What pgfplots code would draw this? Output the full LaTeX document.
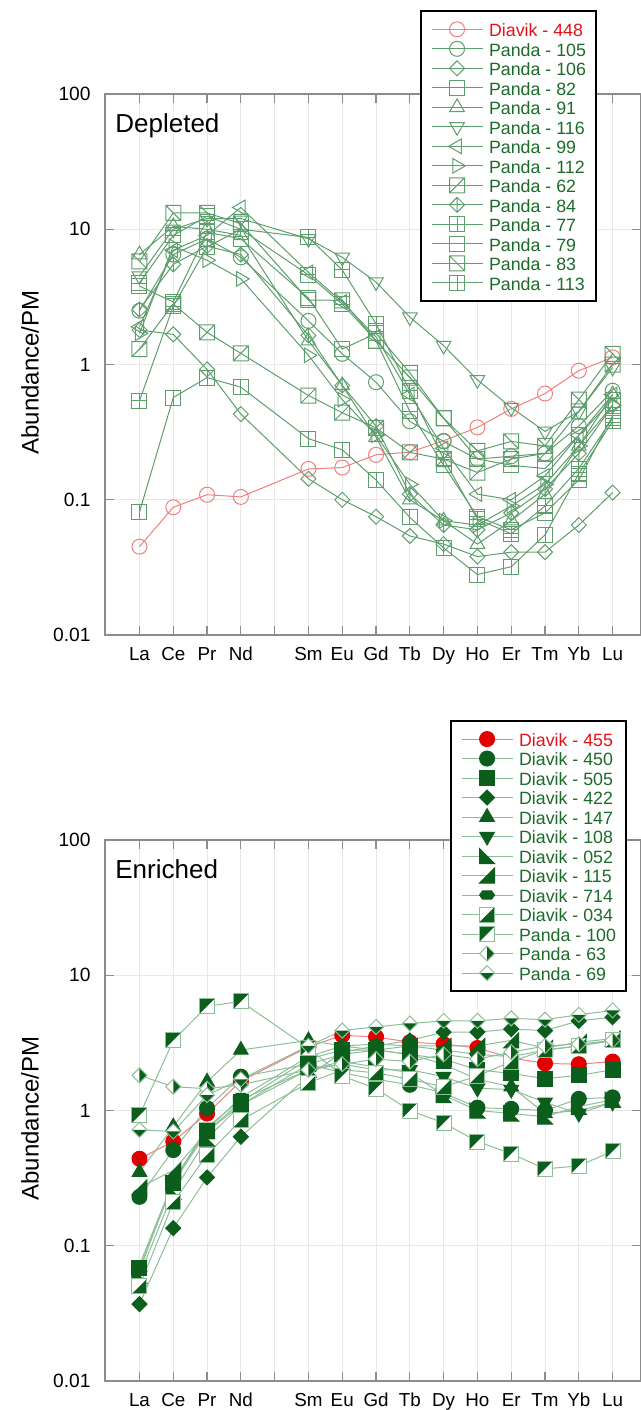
\documentclass[border=0pt]{standalone}
\usepackage{fontspec}
\setmainfont{Liberation Sans}
\usepackage{pgfplots}
\pgfplotsset{compat=1.18}
\usetikzlibrary{plotmarks}

\definecolor{gmk}{HTML}{5E9E6C}
\definecolor{rmk}{HTML}{F07F7F}
\definecolor{gtxt}{HTML}{1C6B2A}
\definecolor{rtxt}{HTML}{E3121B}
\definecolor{gdk}{HTML}{0B5E1C}
\definecolor{glt}{HTML}{8DBE98}
\definecolor{rfill}{HTML}{E00000}
\definecolor{gridc}{HTML}{E8E8E8}
\definecolor{axc}{HTML}{8C8C8C}

\newcommand\sqpath{\pgfpathrectangle{\pgfqpoint{-\pgfplotmarksize}{-\pgfplotmarksize}}{\pgfqpoint{2\pgfplotmarksize}{2\pgfplotmarksize}}}
\newcommand\diapath{\pgfpathmoveto{\pgfqpoint{0pt}{\pgfplotmarksize}}\pgfpathlineto{\pgfqpoint{\pgfplotmarksize}{0pt}}\pgfpathlineto{\pgfqpoint{0pt}{-\pgfplotmarksize}}\pgfpathlineto{\pgfqpoint{-\pgfplotmarksize}{0pt}}\pgfpathclose}
\newcommand\MV[2]{\pgfpathmoveto{\pgfqpoint{#1\pgfplotmarksize}{#2\pgfplotmarksize}}}
\newcommand\LN[2]{\pgfpathlineto{\pgfqpoint{#1\pgfplotmarksize}{#2\pgfplotmarksize}}}
\pgfdeclareplotmark{sqslash}{\sqpath\MV{-1}{-1}\LN{1}{1}\pgfusepathqstroke}
\pgfdeclareplotmark{sqbslash}{\sqpath\MV{-1}{1}\LN{1}{-1}\pgfusepathqstroke}
\pgfdeclareplotmark{sqv}{\sqpath\MV{0}{-1}\LN{0}{1}\pgfusepathqstroke}
\pgfdeclareplotmark{sqh}{\sqpath\MV{-1}{0}\LN{1}{0}\pgfusepathqstroke}
\pgfdeclareplotmark{sqplus}{\sqpath\MV{0}{-1}\LN{0}{1}\MV{-1}{0}\LN{1}{0}\pgfusepathqstroke}
\pgfdeclareplotmark{mydia}{\diapath\pgfusepathqstroke}
\pgfdeclareplotmark{diav}{\diapath\MV{0}{-1}\LN{0}{1}\pgfusepathqstroke}
\pgfdeclareplotmark{mydiaf}{\diapath\pgfusepathqfillstroke}
\pgfdeclareplotmark{triLL}{\MV{-1}{1}\LN{-1}{-1}\LN{1}{-1}\pgfpathclose\pgfusepathqfillstroke}
\pgfdeclareplotmark{triLR}{\MV{1}{1}\LN{1}{-1}\LN{-1}{-1}\pgfpathclose\pgfusepathqfillstroke}
\pgfdeclareplotmark{hexf}{\MV{-1}{0}\LN{-0.6}{0.55}\LN{0.6}{0.55}\LN{1}{0}\LN{0.6}{-0.55}\LN{-0.6}{-0.55}\pgfpathclose\pgfusepathqfillstroke}
\pgfdeclareplotmark{sqLR}{\begin{pgfscope}\pgfsetfillcolor{white}\sqpath\pgfusepathqfill
 \pgfsetfillcolor{gdk}\MV{1}{1}\LN{1}{-1}\LN{-1}{-1}\pgfpathclose\pgfusepathqfill
 \pgfsetstrokecolor{glt}\sqpath\pgfusepathqstroke\end{pgfscope}}
\pgfdeclareplotmark{sqUL}{\begin{pgfscope}\pgfsetfillcolor{white}\sqpath\pgfusepathqfill
 \pgfsetfillcolor{gdk}\MV{-1}{-1}\LN{-1}{1}\LN{1}{1}\pgfpathclose\pgfusepathqfill
 \pgfsetstrokecolor{glt}\sqpath\pgfusepathqstroke\end{pgfscope}}
\pgfdeclareplotmark{diaR}{\begin{pgfscope}\pgfsetfillcolor{white}\diapath\pgfusepathqfill
 \pgfsetfillcolor{gdk}\MV{0}{1}\LN{1}{0}\LN{0}{-1}\pgfpathclose\pgfusepathqfill
 \pgfsetstrokecolor{glt}\diapath\pgfusepathqstroke\end{pgfscope}}
\pgfdeclareplotmark{diaB}{\begin{pgfscope}\pgfsetfillcolor{white}\diapath\pgfusepathqfill
 \pgfsetfillcolor{gdk}\MV{-1}{0}\LN{1}{0}\LN{0}{-1}\pgfpathclose\pgfusepathqfill
 \pgfsetstrokecolor{glt}\diapath\pgfusepathqstroke\end{pgfscope}}

\pgfplotsset{every axis/.append style={
    scale only axis, width=268pt, height=270.5pt,
    xmin=-1.02, xmax=14.84,
    xtick={0,...,14}, xticklabels={La,Ce,Pr,Nd,,Sm,Eu,Gd,Tb,Dy,Ho,Er,Tm,Yb,Lu},
    ytick={0.01,0.1,1,10,100}, 
    grid=major, major grid style={gridc, line width=0.5pt},
    axis line style={axc, line width=0.6pt},
    tick style={axc, line width=0.6pt}, tick align=inside, major tick length=4.5pt,
    xticklabel style={font=\fontsize{9.4}{10}\selectfont, inner sep=0pt, text height=6.8pt, yshift=-5.6pt},
    yticklabel style={font=\fontsize{9.6}{10}\selectfont, inner sep=0pt, xshift=-7pt},
    ylabel style={at={(axis description cs:-0.14,0.485)}, rotate=0, anchor=center, font=\fontsize{12}{12}\selectfont},
    legend cell align=left,
    legend style={draw=black, line width=1pt, fill=white, font=\fontsize{8.9}{9}\selectfont,
      inner xsep=5pt, inner ysep=4.2pt, column sep=3pt, row sep=0pt,
      nodes={inner sep=0pt, text height=8.55pt, text depth=1.2pt}},
  },
  every axis plot/.append style={line width=0.5pt, mark size=3.75pt},
}

\begin{document}
\begin{tikzpicture}
\useasboundingbox (0,0) rectangle (320.5pt,-705pt);

\begin{axis}[at={(52.5pt,-47pt)}, anchor=north west,
  ymode=log, ymin=0.01, ymax=100, log ticks with fixed point, yminorticks=false,
  /pgf/number format/assume math mode=true,
  ylabel={Abundance/PM},
  legend image code/.code={\draw[line width=0.5pt, mark repeat=2, mark phase=2, #1] plot coordinates {(0pt,0pt) (12.75pt,0pt) (25.5pt,0pt)};},
  legend style={at={(0.918,1.155)}, anchor=north east}]
\addplot[color=rmk, mark=o, mark options={solid}] coordinates {(0,0.045)(1,0.088)(2,0.109)(3,0.105)(5,0.169)(6,0.173)(7,0.215)(8,0.225)(9,0.273)(10,0.343)(11,0.47)(12,0.61)(13,0.90)(14,1.13)};
\addlegendentry{\textcolor{rtxt}{Diavik - 448}}
\addplot[color=gmk, mark=o] coordinates {(0,2.5)(1,6.5)(2,8.5)(3,6.2)(5,2.1)(6,1.2)(7,0.74)(8,0.38)(9,0.27)(10,0.2)(11,0.21)(12,0.22)(13,0.35)(14,0.64)};
\addlegendentry{\textcolor{gtxt}{Panda - 105}}
\addplot[color=gmk, mark=mydia] coordinates {(0,1.8)(1,1.67)(2,0.92)(3,0.43)(5,0.143)(6,0.10)(7,0.075)(8,0.054)(9,0.047)(10,0.038)(11,0.041)(12,0.041)(13,0.065)(14,0.113)};
\addlegendentry{\textcolor{gtxt}{Panda - 106}}
\addplot[color=gmk, mark=square] coordinates {(0,3.8)(1,2.9)(2,9.5)(3,8.5)(5,3.1)(6,1.3)(7,1.7)(8,0.87)(9,0.4)(10,0.2)(11,0.18)(12,0.17)(13,0.3)(14,0.55)};
\addlegendentry{\textcolor{gtxt}{Panda - 82}}
\addplot[color=gmk, mark=triangle, mark size=4.2pt] coordinates {(0,6.5)(1,10.5)(2,10)(3,9)(5,1.5)(6,0.7)(7,0.29)(8,0.10)(9,0.07)(10,0.047)(11,0.07)(12,0.11)(13,0.25)(14,0.6)};
\addlegendentry{\textcolor{gtxt}{Panda - 91}}
\addplot[color=gmk, mark=triangle, mark size=4.2pt, mark options={rotate=180}] coordinates {(0,4.5)(1,10)(2,12)(3,12)(5,8.5)(6,6.2)(7,4.07)(8,2.24)(9,1.38)(10,0.77)(11,0.48)(12,0.32)(13,0.45)(14,0.95)};
\addlegendentry{\textcolor{gtxt}{Panda - 116}}
\addplot[color=gmk, mark=triangle, mark size=4.2pt, mark options={rotate=90}] coordinates {(0,1.9)(1,7)(2,9)(3,14.5)(5,4.8)(6,2.9)(7,1.6)(8,0.6)(9,0.24)(10,0.11)(11,0.10)(12,0.15)(13,0.3)(14,0.6)};
\addlegendentry{\textcolor{gtxt}{Panda - 99}}
\addplot[color=gmk, mark=triangle, mark size=4.2pt, mark options={rotate=-90}] coordinates {(0,1.7)(1,7.5)(2,5.9)(3,4.3)(5,1.17)(6,0.55)(7,0.30)(8,0.13)(9,0.07)(10,0.065)(11,0.09)(12,0.13)(13,0.25)(14,0.5)};
\addlegendentry{\textcolor{gtxt}{Panda - 112}}
\addplot[color=gmk, mark=sqslash] coordinates {(0,1.3)(1,2.8)(2,1.73)(3,1.21)(5,0.59)(6,0.44)(7,0.34)(8,0.224)(9,0.2)(10,0.159)(11,0.2)(12,0.22)(13,0.45)(14,1.0)};
\addlegendentry{\textcolor{gtxt}{Panda - 62}}
\addplot[color=gmk, mark=diav] coordinates {(0,2.55)(1,5.5)(2,7.5)(3,6.5)(5,1.64)(6,0.7)(7,0.35)(8,0.11)(9,0.065)(10,0.06)(11,0.08)(12,0.12)(13,0.22)(14,0.5)};
\addlegendentry{\textcolor{gtxt}{Panda - 84}}
\addplot[color=gmk, mark=sqv] coordinates {(0,0.081)(1,0.57)(2,0.8)(3,0.68)(5,0.283)(6,0.234)(7,0.14)(8,0.074)(9,0.044)(10,0.028)(11,0.032)(12,0.055)(13,0.156)(14,0.38)};
\addlegendentry{\textcolor{gtxt}{Panda - 77}}
\addplot[color=gmk, mark=sqh] coordinates {(0,4.0)(1,9.0)(2,12.5)(3,10)(5,4.6)(6,2.8)(7,1.5)(8,0.45)(9,0.18)(10,0.075)(11,0.06)(12,0.08)(13,0.14)(14,0.42)};
\addlegendentry{\textcolor{gtxt}{Panda - 79}}
\addplot[color=gmk, mark=sqbslash] coordinates {(0,5.8)(1,13.2)(2,13.2)(3,11)(5,3.0)(6,2.98)(7,1.5)(8,0.8)(9,0.4)(10,0.23)(11,0.27)(12,0.25)(13,0.55)(14,1.2)};
\addlegendentry{\textcolor{gtxt}{Panda - 83}}
\addplot[color=gmk, mark=sqplus] coordinates {(0,0.54)(1,2.7)(2,7.4)(3,10)(5,8.7)(6,5.0)(7,2.0)(8,0.64)(9,0.2)(10,0.072)(11,0.056)(12,0.09)(13,0.17)(14,0.4)};
\addlegendentry{\textcolor{gtxt}{Panda - 113}}
\node[anchor=north west, inner sep=0pt, font=\fontsize{13}{13}\selectfont, xshift=5pt, yshift=-9.5pt] at (rel axis cs:0,1) {Depleted};
\end{axis}

\begin{axis}[at={(52.5pt,-420pt)}, anchor=north west,
  ymode=log, ymin=0.01, ymax=100, log ticks with fixed point, yminorticks=false,
  /pgf/number format/assume math mode=true,
  ylabel={Abundance/PM},
  legend image code/.code={\draw[line width=0.5pt, mark repeat=2, mark phase=2, #1] plot coordinates {(0pt,0pt) (12.75pt,0pt) (25.5pt,0pt)};},
  legend style={at={(0.974,1.222)}, anchor=north east}]
\addplot[color=rmk, mark=*, mark options={solid, draw=rfill, fill=rfill}] coordinates {(0,0.44)(1,0.59)(2,0.95)(3,1.65)(5,2.95)(6,3.6)(7,3.5)(8,3.2)(9,3.1)(10,2.9)(11,2.45)(12,2.23)(13,2.2)(14,2.3)};
\addlegendentry{\textcolor{rtxt}{Diavik - 455}}
\addplot[color=glt, mark=*, mark options={draw=gdk, fill=gdk}] coordinates {(0,0.23)(1,0.51)(2,1.04)(3,1.78)(5,2.2)(6,1.9)(7,1.7)(8,1.55)(9,1.35)(10,1.05)(11,1.03)(12,1.0)(13,1.22)(14,1.25)};
\addlegendentry{\textcolor{gtxt}{Diavik - 450}}
\addplot[color=glt, mark=square*, mark options={draw=gdk, fill=gdk}] coordinates {(0,0.068)(1,0.29)(2,0.7)(3,1.16)(5,2.4)(6,2.8)(7,2.8)(8,2.6)(9,2.4)(10,2.0)(11,1.88)(12,1.72)(13,1.82)(14,2.0)};
\addlegendentry{\textcolor{gtxt}{Diavik - 505}}
\addplot[color=glt, mark=mydiaf, mark options={draw=gdk, fill=gdk}] coordinates {(0,0.037)(1,0.135)(2,0.32)(3,0.64)(5,1.8)(6,2.7)(7,3.0)(8,3.3)(9,3.8)(10,3.8)(11,4.0)(12,3.9)(13,4.6)(14,4.9)};
\addlegendentry{\textcolor{gtxt}{Diavik - 422}}
\addplot[color=glt, mark=triangle*, mark size=4.2pt, mark options={draw=gdk, fill=gdk}] coordinates {(0,0.35)(1,0.76)(2,1.63)(3,2.8)(5,3.3)(6,3.0)(7,2.8)(8,2.6)(9,2.2)(10,1.7)(11,1.5)(12,0.95)(13,1.0)(14,1.15)};
\addlegendentry{\textcolor{gtxt}{Diavik - 147}}
\addplot[color=glt, mark=triangle*, mark size=4.2pt, mark options={draw=gdk, fill=gdk, rotate=180}] coordinates {(0,0.072)(1,0.3)(2,0.75)(3,1.2)(5,2.0)(6,2.2)(7,2.0)(8,2.0)(9,1.78)(10,1.46)(11,1.43)(12,1.15)(13,0.95)(14,1.15)};
\addlegendentry{\textcolor{gtxt}{Diavik - 108}}
\addplot[color=glt, mark=triLL, mark options={draw=gdk, fill=gdk}] coordinates {(0,0.06)(1,0.25)(2,0.62)(3,1.1)(5,2.0)(6,2.3)(7,2.1)(8,1.9)(9,1.3)(10,1.0)(11,0.95)(12,0.9)(13,1.07)(14,1.2)};
\addlegendentry{\textcolor{gtxt}{Diavik - 052}}
\addplot[color=glt, mark=triLR, mark options={draw=gdk, fill=gdk}] coordinates {(0,0.27)(1,0.36)(2,0.7)(3,1.1)(5,2.2)(6,2.6)(7,2.8)(8,3.0)(9,3.0)(10,3.0)(11,3.3)(12,2.9)(13,3.2)(14,3.4)};
\addlegendentry{\textcolor{gtxt}{Diavik - 115}}
\addplot[color=glt, mark=hexf, mark options={draw=gdk, fill=gdk}] coordinates {(0,0.065)(1,0.3)(2,0.72)(3,1.25)(5,2.5)(6,3.0)(7,3.1)(8,3.0)(9,2.8)(10,2.6)(11,2.5)(12,2.8)(13,3.0)(14,3.3)};
\addlegendentry{\textcolor{gtxt}{Diavik - 714}}
\addplot[color=glt, mark=sqLR] coordinates {(0,0.05)(1,0.21)(2,0.47)(3,0.85)(5,1.6)(6,2.0)(7,1.9)(8,1.7)(9,1.5)(10,1.8)(11,2.3)(12,2.8)(13,3.0)(14,3.3)};
\addlegendentry{\textcolor{gtxt}{Diavik - 034}}
\addplot[color=glt, mark=sqUL] coordinates {(0,0.92)(1,3.3)(2,5.9)(3,6.4)(5,2.9)(6,1.8)(7,1.45)(8,1.0)(9,0.81)(10,0.59)(11,0.48)(12,0.37)(13,0.39)(14,0.5)};
\addlegendentry{\textcolor{gtxt}{Panda - 100}}
\addplot[color=glt, mark=diaR] coordinates {(0,1.82)(1,1.5)(2,1.45)(3,1.55)(5,2.0)(6,2.2)(7,2.4)(8,2.3)(9,2.6)(10,2.4)(11,2.7)(12,3.0)(13,3.1)(14,3.3)};
\addlegendentry{\textcolor{gtxt}{Panda - 63}}
\addplot[color=glt, mark=diaB] coordinates {(0,0.72)(1,0.7)(2,1.3)(3,1.7)(5,3.0)(6,3.9)(7,4.15)(8,4.4)(9,4.6)(10,4.6)(11,4.8)(12,4.7)(13,5.1)(14,5.5)};
\addlegendentry{\textcolor{gtxt}{Panda - 69}}
\node[anchor=north west, inner sep=0pt, font=\fontsize{13}{13}\selectfont, xshift=5pt, yshift=-9.5pt] at (rel axis cs:0,1) {Enriched};
\end{axis}
\end{tikzpicture}
\end{document}
